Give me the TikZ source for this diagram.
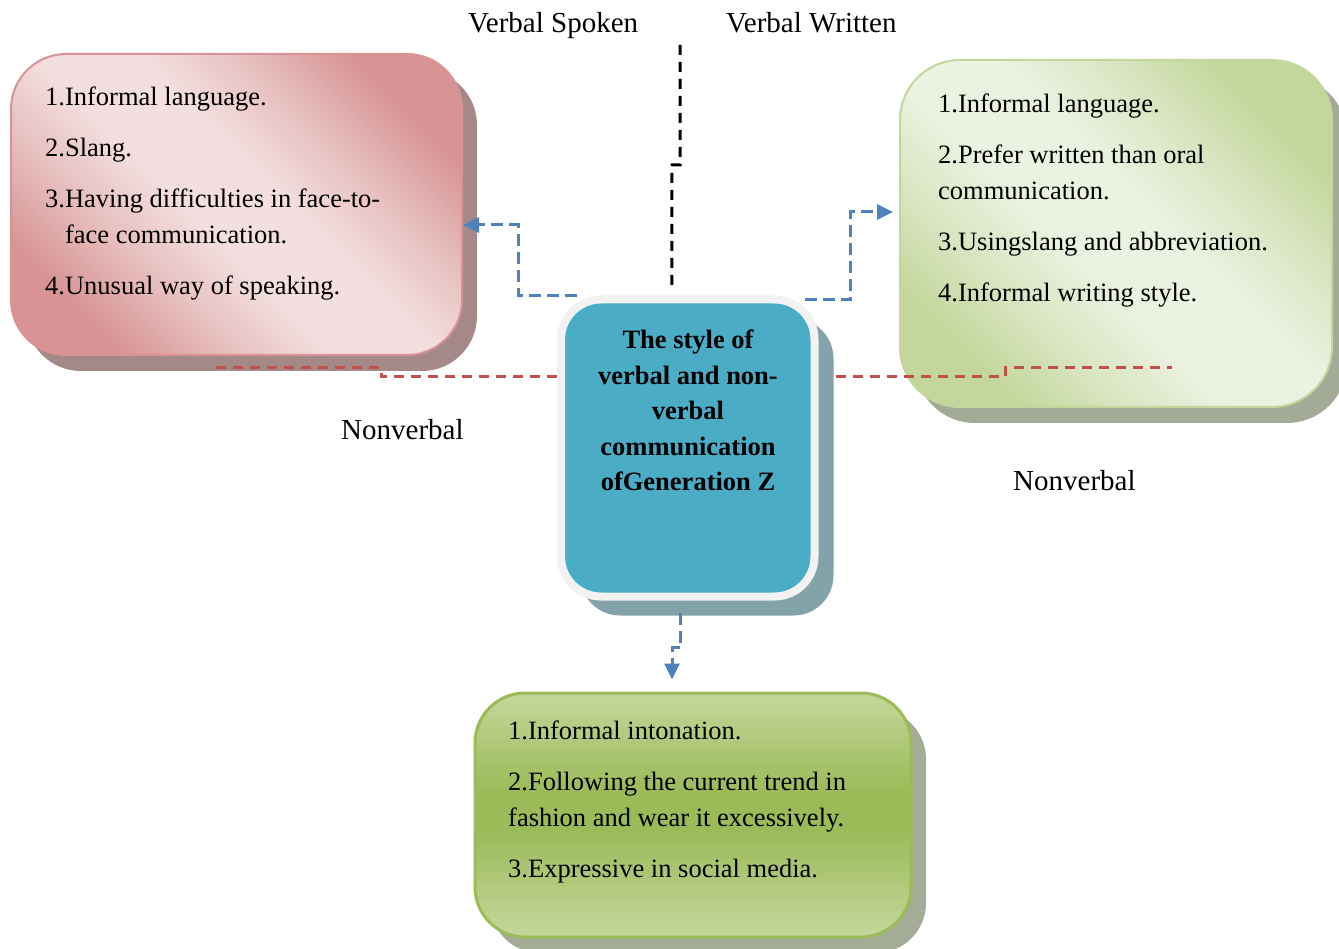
\documentclass[tikz,border=0pt]{standalone}
\usepackage{fontspec}
\setmainfont{Liberation Serif}
\usetikzlibrary{arrows.meta}
\usetikzlibrary{shadows}
\usetikzlibrary{calc}
\definecolor{spokendark}{RGB}{216,148,148}
\definecolor{spokenlight}{RGB}{243,223,223}
\definecolor{spokenshadow}{RGB}{165,136,136}
\definecolor{writtendark}{RGB}{195,214,155}
\definecolor{writtenlight}{RGB}{236,242,226}
\definecolor{writtenshadow}{RGB}{163,170,150}
\definecolor{coreteal}{RGB}{75,172,198}
\definecolor{coreshadow}{RGB}{132,162,170}
\definecolor{mediadark}{RGB}{155,187,89}
\definecolor{medialight}{RGB}{196,215,155}
\definecolor{mediashadow}{RGB}{165,172,150}
\definecolor{linkblue}{RGB}{79,129,189}
\definecolor{linkred}{RGB}{192,80,77}
\pgfdeclareverticalshading{spokenglow}{100bp}{color(0bp)=(spokendark); color(25bp)=(spokendark);
  color(35bp)=(spokendark!45!spokenlight); color(45bp)=(spokenlight); color(55bp)=(spokenlight);
  color(65bp)=(spokendark!45!spokenlight); color(75bp)=(spokendark); color(100bp)=(spokendark)}
\pgfdeclareverticalshading{writtenglow}{100bp}{color(0bp)=(writtendark); color(25bp)=(writtendark);
  color(35bp)=(writtendark!45!writtenlight); color(45bp)=(writtenlight); color(55bp)=(writtenlight);
  color(65bp)=(writtendark!45!writtenlight); color(75bp)=(writtendark); color(100bp)=(writtendark)}
\pgfdeclareverticalshading{mediaglow}{100bp}{color(0bp)=(medialight); color(25bp)=(medialight);
  color(47bp)=(mediadark); color(55bp)=(mediadark); color(75bp)=(medialight); color(100bp)=(medialight)}
\tikzset{l/.style={font=\fontsize{26.5}{36}\selectfont}}
\tikzset{lab/.style={font=\fontsize{29}{34}\selectfont}}
\tikzset{card/.style={draw, line width=2pt, inner sep=0pt}}
\tikzset{link/.style={line width=3pt, dash pattern=on 12pt off 6pt}}
\tikzset{tip/.style={-{Triangle[length=16pt,width=15pt]}}}

\begin{document}
\begin{tikzpicture}[x=1pt,y=-1pt]
  \useasboundingbox (0,0) rectangle (1339,949);
  % the four boxes
  \node[card, draw=spokendark, rounded corners=55pt,
        minimum width=451pt, minimum height=301pt,
        shade, shading=spokenglow, shading angle=-45,
        drop shadow={shadow xshift=15pt, shadow yshift=-16pt, fill=spokenshadow, opacity=1}]
        (spoken) at (236.5,204.5) {};
  \node[card, draw=writtendark, rounded corners=60pt,
        minimum width=432pt, minimum height=347pt,
        shade, shading=writtenglow, shading angle=-45,
        drop shadow={shadow xshift=15pt, shadow yshift=-16pt, fill=writtenshadow, opacity=1}]
        (written) at (1116,233.5) {};
  \node[card, draw=black!5, line width=8pt, fill=coreteal, rounded corners=40pt,
        minimum width=253.5pt, minimum height=297pt,
        drop shadow={shadow xshift=19pt, shadow yshift=-19pt, fill=coreshadow, opacity=1}]
        (core) at (687.75,448) {};
  \node[card, draw=mediadark, line width=3pt, rounded corners=50pt,
        minimum width=436pt, minimum height=244pt,
        shade, shading=mediaglow,
        drop shadow={shadow xshift=15pt, shadow yshift=-16pt, fill=mediashadow, opacity=1}]
        (media) at (693,815) {};

  % texts
  \node[l, anchor=north west, align=left, inner sep=0pt] (spokenlist) at (45,87)
    {1.Informal language.\\[15pt]
     2.Slang.\\[15pt]
     3.Having difficulties in face-to-\\
     \phantom{3.}face communication.\\[15pt]
     4.Unusual way of speaking.};
  \node[l, anchor=north west, align=left, inner sep=0pt] (writtenlist) at (938,94)
    {1.Informal language.\\[15pt]
     2.Prefer written than oral\\
     communication.\\[15pt]
     3.Usingslang and abbreviation.\\[15pt]
     4.Informal writing style.};
  \node[l, anchor=north west, align=left, inner sep=0pt] (medialist) at (508,721)
    {1.Informal intonation.\\[15pt]
     2.Following the current trend in\\
     fashion and wear it excessively.\\[15pt]
     3.Expressive in social media.};
  \node[font=\fontsize{26.5}{35.5}\selectfont\bfseries, anchor=north, align=center, inner sep=0pt]
    (coretext) at (688,330)
    {The style of\\verbal and non-\\verbal\\communication\\ofGeneration Z};

  \node[lab, anchor=base west, inner sep=0pt] (spokenlab) at (468,33) {Verbal Spoken};
  \node[lab, anchor=base west, inner sep=0pt] (writtenlab) at (726,33) {Verbal Written};
  \node[lab, anchor=base west, inner sep=0pt] (nvlabl) at (341,439) {Nonverbal};
  \node[lab, anchor=base west, inner sep=0pt] (nvlabr) at (1013,490) {Nonverbal};

  % connectors
  \coordinate (vtop) at (680,45);
  \coordinate (nvleft) at (213,368);
  \coordinate (nvright) at (1172,368);
  \draw[link, black, dash pattern=on 10pt off 7pt] (vtop) -- (680,165) -- (672,165) -- ([xshift=-16pt,yshift=6pt]core.north);
  \draw[link, linkblue, tip] ([xshift=-111pt]core.north) -| (518,225) -- (spoken.east |- 0,225);
  \draw[link, linkblue, tip, shorten >=6pt] ([xshift=117pt,yshift=-4pt]core.north) -| (850,212) -- (written.west |- 0,212);
  \draw[link, linkblue, tip] ([xshift=-7pt,yshift=-12pt]core.south) -- ++(0,35) -| ([xshift=-21pt,yshift=12pt]media.north);
  \draw[link, linkred, dash pattern=on 10pt off 7pt] (core.west |- 0,377) -- (381,377) -- (381,368) -- (nvleft);
  \draw[link, linkred, dash pattern=on 10pt off 7pt] ($(core.east |- 0,377)+(17,0)$) -- (1005,377) -- (1005,368) -- (nvright);
\end{tikzpicture}
\end{document}
